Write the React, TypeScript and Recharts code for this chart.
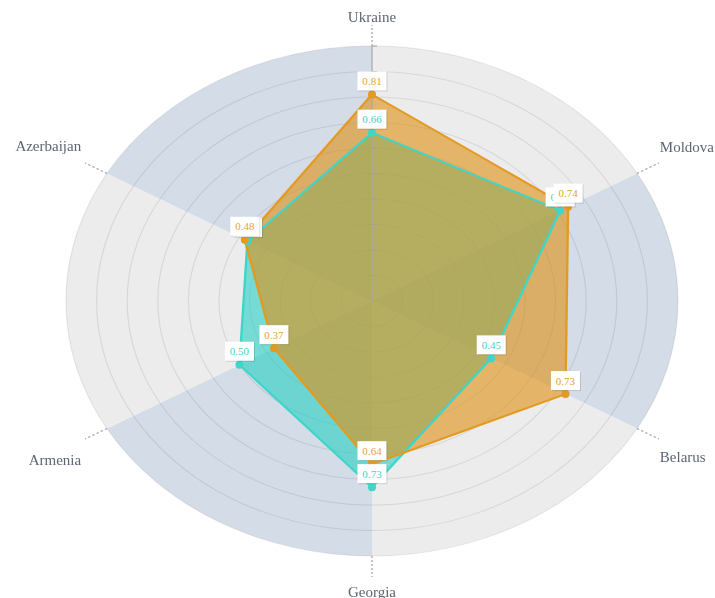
import React from 'react';
import {
  RadarChart,
  Radar,
  PolarGrid,
  PolarAngleAxis,
  PolarRadiusAxis,
  PieChart,
  Pie,
  Cell,
} from 'recharts';

// ---- data ----
const categories = ['Ukraine', 'Moldova', 'Belarus', 'Georgia', 'Armenia', 'Azerbaijan'];
const seriesOrange = [0.81, 0.74, 0.73, 0.64, 0.37, 0.48];
const seriesCyan = [0.66, 0.71, 0.45, 0.73, 0.5, 0.47];
const radiusTicks = [0, 0.1, 0.2, 0.3, 0.4, 0.5, 0.6, 0.7, 0.8, 0.9, 1];
const sectorColors = ['#ececec', '#d4dce7'];

const chartData = categories.map((name, i) => ({
  name,
  orange: seriesOrange[i],
  cyan: seriesCyan[i],
}));
const sectorData = categories.map((name) => ({ name, value: 1 }));

// ---- layout ----
const SX = 1.2;
const W = 596;
const H = 598;
const CX = 310;
const CY = 301;
const R = 255;

const ORANGE_FILL = '#e09013';
const ORANGE_STROKE = '#e39a22';
const ORANGE_TEXT = '#e8a03a';
const CYAN_FILL = '#26d0c4';
const CYAN_STROKE = '#3fd5c7';
const CYAN_TEXT = '#45d2c8';
const SERIF = "'Liberation Serif', 'DejaVu Serif', serif";

const AngleTick = (props: any) => {
  const { x, y, payload, textAnchor } = props;
  const below = y > CY + 1;
  let dx = 0;
  let dy = 0;
  if (textAnchor === 'middle') {
    dy = below ? 19.5 : -3.5;
  } else if (textAnchor === 'start') {
    dx = 1;
    dy = below ? 22.5 : -11.5;
  } else {
    dx = -4;
    dy = below ? 25.5 : -12.5;
  }
  return (
    <g transform={`translate(${x},${y}) scale(${1 / SX},1)`}>
      <text x={dx} y={dy} textAnchor={textAnchor} fontSize={15} fill="#5d6573" fontFamily={SERIF}>
        {payload.value}
      </text>
    </g>
  );
};

const RadiusTick = (props: any) => {
  const { x, y, payload } = props;
  if (x == null || y == null || !payload || payload.value === 0) return <g />;
  return <line x1={x} y1={y} x2={x + 5 / SX} y2={y} stroke="#a0a0a0" strokeWidth={1} />;
};

const makeDot = (color: string) => (props: any) => {
  const { cx, cy, index } = props;
  if (cx == null || cy == null) return <g key={`d-${color}-${index}`} />;
  return (
    <g key={`d-${color}-${index}`} transform={`translate(${cx},${cy}) scale(${1 / SX},1)`}>
      <circle r={4} fill={color} />
    </g>
  );
};

const makeLabel = (values: number[], color: string) => (props: any) => {
  const { cx, cy, index } = props;
  if (cx == null || cy == null) return <g key={`l-${color}-${index}`} />;
  const v = values[index ?? 0];
  return (
    <g key={`l-${color}-${index}`} transform={`translate(${cx},${cy}) scale(${1 / SX},1)`}>
      <rect x={-13.5} y={-22} width={29} height={19} fill="rgba(0,0,0,0.13)" />
      <rect x={-14.5} y={-23} width={29} height={19} fill="#ffffff" />
      <text x={0} y={-9.5} textAnchor="middle" fontSize={11} fill={color} fontFamily={SERIF}>
        {v.toFixed(2)}
      </text>
    </g>
  );
};

const margin = { top: 0, right: 0, bottom: 0, left: 0 };

export default function App() {
  return (
    <div
      style={{
        position: 'absolute',
        left: 0,
        top: 0,
        width: 715,
        height: 598,
        overflow: 'hidden',
        background: '#ffffff',
      }}
    >
      <div
        style={{
          position: 'absolute',
          left: 0,
          top: 0,
          width: W,
          height: H,
          transform: `scaleX(${SX})`,
          transformOrigin: '0 0',
        }}
      >
        <div style={{ position: 'absolute', left: 0, top: 0 }}>
          <PieChart width={W} height={H} margin={margin}>
            <Pie
              data={sectorData}
              dataKey="value"
              cx={CX}
              cy={CY}
              innerRadius={0}
              outerRadius={R}
              startAngle={90}
              endAngle={-270}
              stroke="none"
              label={false}
              labelLine={false}
              isAnimationActive={false}
            >
              {sectorData.map((d, i) => (
                <Cell key={d.name} fill={sectorColors[i % 2]} stroke="none" />
              ))}
            </Pie>
          </PieChart>
        </div>
        <div style={{ position: 'absolute', left: 0, top: 0 }}>
          <RadarChart
            width={W}
            height={H}
            data={chartData}
            cx={CX}
            cy={CY}
            outerRadius={R}
            startAngle={90}
            endAngle={-270}
            margin={margin}
          >
            <PolarGrid gridType="circle" radialLines={false} stroke="#000000" strokeOpacity={0.085} />
            <PolarAngleAxis
              dataKey="name"
              axisLine={false}
              tickSize={21}
              tickLine={{ stroke: '#9aa0a8', strokeDasharray: '2 2' }}
              tick={AngleTick}
            />
            <PolarRadiusAxis
              type="number"
              angle={90}
              domain={[0, 1]}
              ticks={radiusTicks}
              tickCount={11}
              stroke="#a8a8a8"
              tick={RadiusTick}
            />
            <Radar
              dataKey="cyan"
              fill={CYAN_FILL}
              fillOpacity={0.6}
              stroke="none"
              dot={false}
              isAnimationActive={false}
            />
            <Radar
              dataKey="orange"
              fill={ORANGE_FILL}
              fillOpacity={0.6}
              stroke="none"
              dot={false}
              isAnimationActive={false}
            />
            <Radar
              dataKey="cyan"
              fill="none"
              fillOpacity={0}
              stroke={CYAN_STROKE}
              strokeWidth={2}
              dot={makeDot(CYAN_STROKE)}
              isAnimationActive={false}
            />
            <Radar
              dataKey="orange"
              fill="none"
              fillOpacity={0}
              stroke={ORANGE_STROKE}
              strokeWidth={2}
              dot={makeDot(ORANGE_STROKE)}
              isAnimationActive={false}
            />
            <Radar
              dataKey="cyan"
              fill="none"
              fillOpacity={0}
              stroke="none"
              dot={makeLabel(seriesCyan, CYAN_TEXT)}
              isAnimationActive={false}
            />
            <Radar
              dataKey="orange"
              fill="none"
              fillOpacity={0}
              stroke="none"
              dot={makeLabel(seriesOrange, ORANGE_TEXT)}
              isAnimationActive={false}
            />
          </RadarChart>
        </div>
      </div>
    </div>
  );
}
